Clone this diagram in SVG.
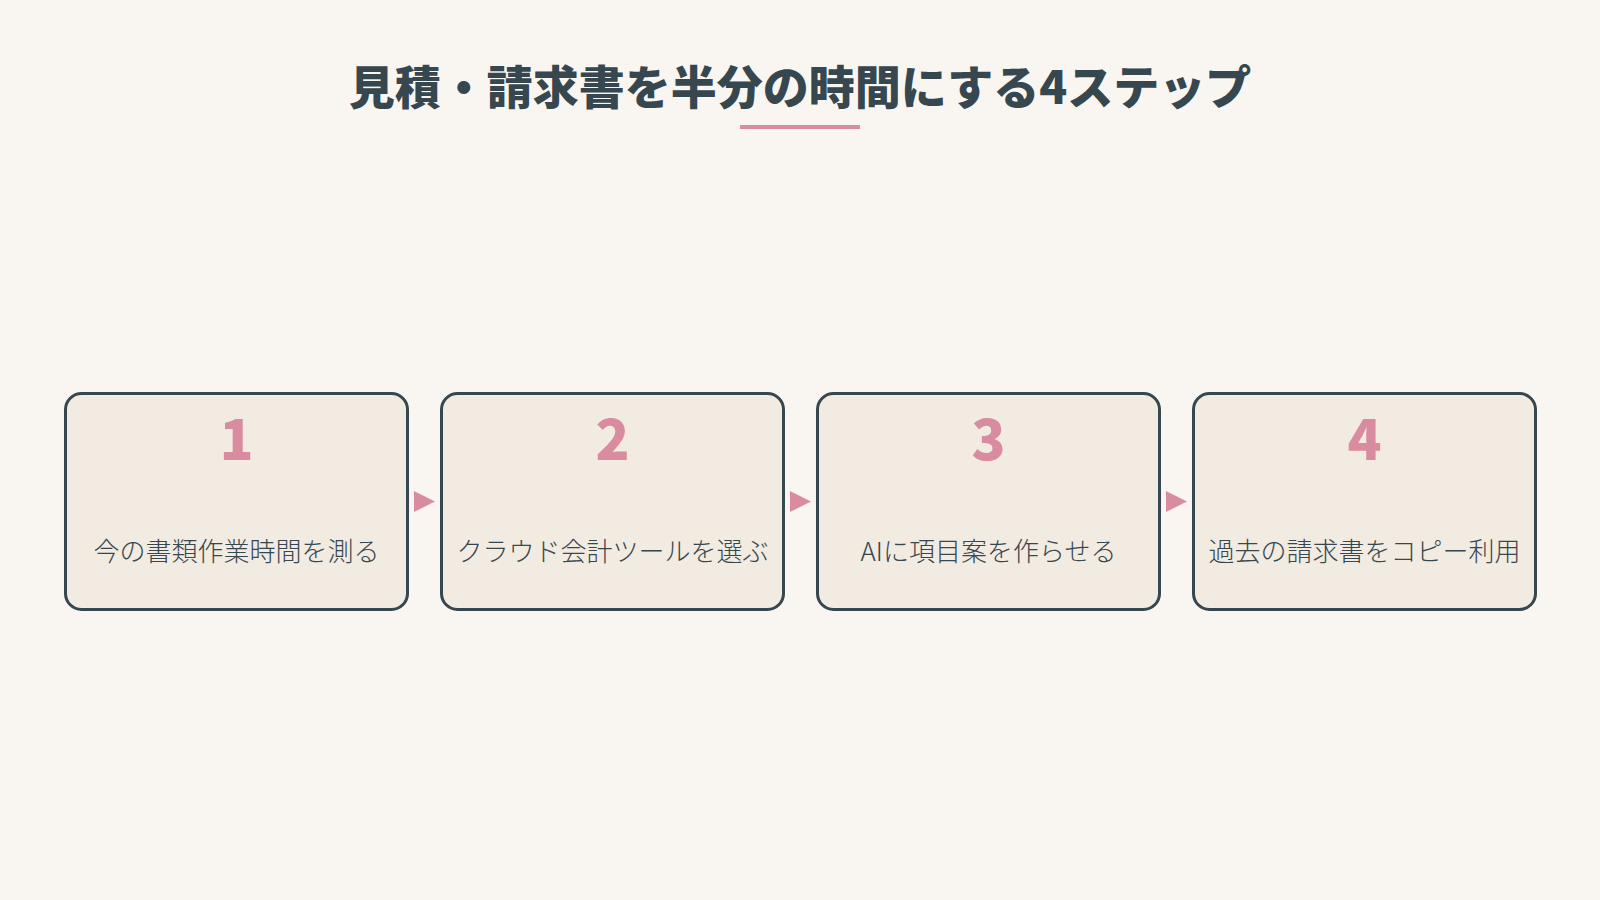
<svg xmlns="http://www.w3.org/2000/svg" width="1600" height="900" viewBox="0 0 1600 900">
<style>
.bg{fill:#f9f6f1}
.box{fill:#f2ebe1;stroke:#37474f;stroke-width:3}
.num{font-family:"Noto Sans CJK JP","Noto Sans",sans-serif;font-weight:900;font-size:56px;fill:#d98ba0;text-anchor:middle}
.lbl{font-family:"Noto Sans CJK JP","Noto Sans",sans-serif;font-weight:300;font-size:26px;fill:#37474f;text-anchor:middle}
.title{font-family:"Noto Sans CJK JP","Noto Sans",sans-serif;font-weight:900;font-size:46px;fill:#37474f;text-anchor:middle}
.arr{fill:#d98ba0}
</style>
<rect class="bg" x="0" y="0" width="1600" height="900"/>
<g id="title">
<text class="title" x="800" y="104">見積・請求書を半分の時間にする4ステップ</text>
<rect x="740" y="125" width="120" height="4" fill="#d98ba0"/>
</g>
<g id="step1">
<rect class="box" x="65.5" y="393.5" width="342" height="216" rx="16"/>
<text class="num" x="236.5" y="460">1</text>
<text class="lbl" x="236.5" y="561">今の書類作業時間を測る</text>
</g>
<g id="step2">
<rect class="box" x="441.5" y="393.5" width="342" height="216" rx="16"/>
<text class="num" x="612.5" y="460">2</text>
<text class="lbl" x="612.5" y="561">クラウド会計ツールを選ぶ</text>
</g>
<g id="step3">
<rect class="box" x="817.5" y="393.5" width="342" height="216" rx="16"/>
<text class="num" x="988.5" y="460">3</text>
<text class="lbl" x="988.5" y="561">AIに項目案を作らせる</text>
</g>
<g id="step4">
<rect class="box" x="1193.5" y="393.5" width="342" height="216" rx="16"/>
<text class="num" x="1364.5" y="460">4</text>
<text class="lbl" x="1364.5" y="561">過去の請求書をコピー利用</text>
</g>
<g id="connectors">
<polygon class="arr" points="414,491 435,501.5 414,512"/>
<polygon class="arr" points="790,491 811,501.5 790,512"/>
<polygon class="arr" points="1166,491 1187,501.5 1166,512"/>
</g>
</svg>
